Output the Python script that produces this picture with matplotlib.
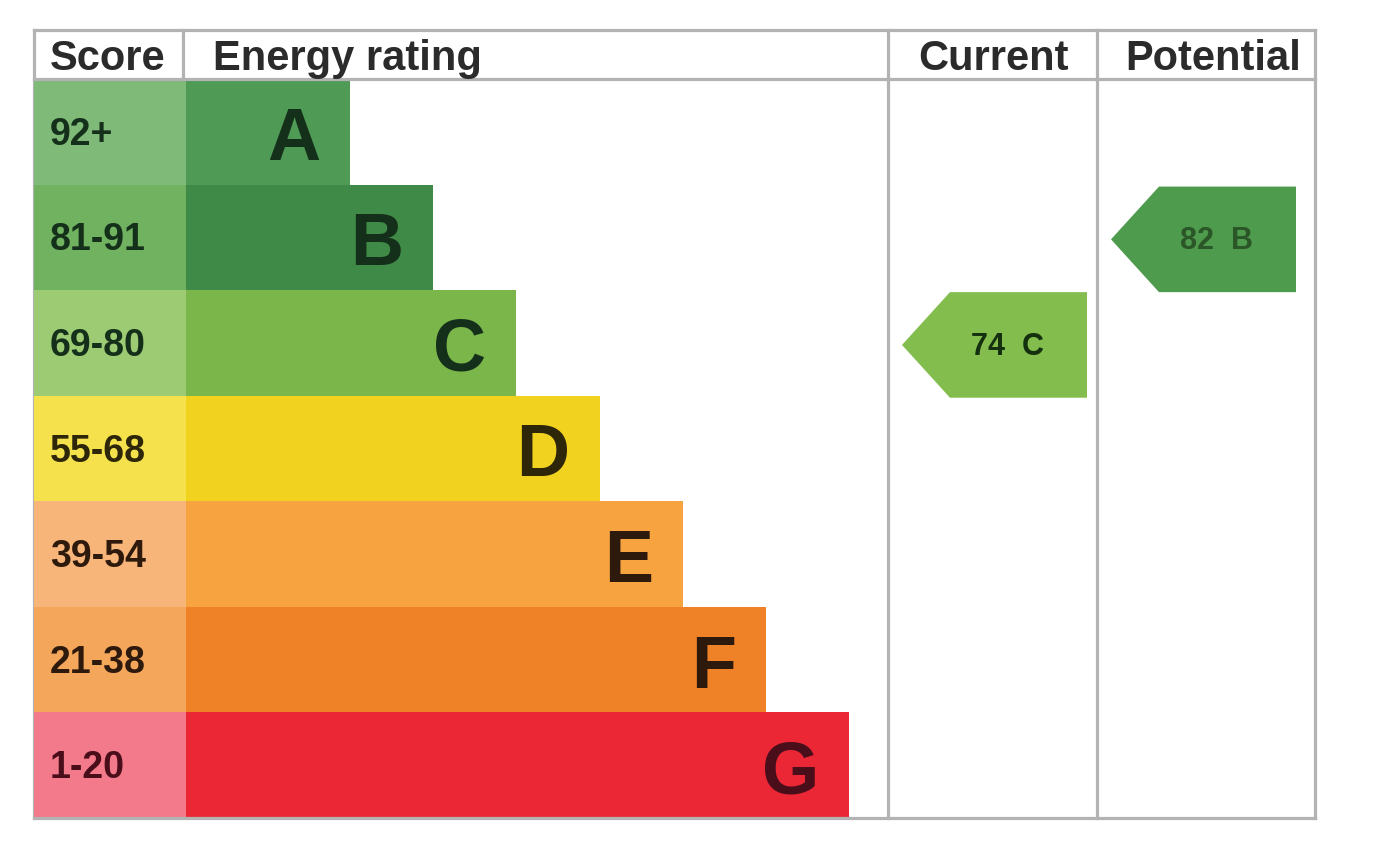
import matplotlib
matplotlib.use('Agg')
import matplotlib.pyplot as plt
from matplotlib.patches import Rectangle, Polygon

plt.rcParams['font.family'] = ['Liberation Sans', 'DejaVu Sans']

bands = ['A', 'B', 'C', 'D', 'E', 'F', 'G']
score_ranges = ['92+', '81-91', '69-80', '55-68', '39-54', '21-38', '1-20']
band_floor = [92, 81, 69, 55, 39, 21, 1]
bar_colors = ['#4f9a55', '#3f8a46', '#7bb64a', '#f1d21f', '#f7a340', '#ef8227', '#eb2736']
score_colors = ['#7fba78', '#70b25f', '#9dcb74', '#f4e14b', '#f8b57a', '#f4a75a', '#f27a8b']
text_colors = ['#15301a', '#15301a', '#15301a', '#2e2608', '#2e1a0c', '#2e1a0c', '#4a0e1a']
headers = ['Score', 'Energy rating', 'Current', 'Potential']
current = 74
potential = 82
arrow_colors = {'C': '#83bd4d', 'B': '#4f9b4e'}


def band_of(score):
    for i, lo in enumerate(band_floor):
        if score >= lo:
            return i
    return len(bands) - 1


fig = plt.figure(figsize=(14, 8.59), dpi=100)
ax = fig.add_axes([0, 0, 1, 1])
ax.set_xlim(0, 1400)
ax.set_ylim(859, 0)
ax.axis('off')

# layout (pixels)
left, x_bar, x_cur, x_pot, right = 34, 186, 888, 1097, 1315
top, head_bot, bottom = 30, 79, 818
row_h = (bottom - head_bot) / len(bands)
bar_first, bar_step = 350, 83.2
grey = '#b3b3b3'

for i, b in enumerate(bands):
    y0 = head_bot + i * row_h
    ax.add_patch(Rectangle((left, y0), x_bar - left, row_h, color=score_colors[i], lw=0))
    x_end = bar_first + i * bar_step
    ax.add_patch(Rectangle((x_bar, y0), x_end - x_bar, row_h, color=bar_colors[i], lw=0))
    yc = y0 + row_h / 2
    ax.text(50, yc + 13, score_ranges[i], fontsize=27, fontweight='bold',
            color=text_colors[i], ha='left', va='baseline')
    ax.text(x_end - 30, yc + 28, b, fontsize=53, fontweight='bold',
            color=text_colors[i], ha='right', va='baseline')

# grid lines
lw = 2.3
ax.plot([left, right], [top, top], color=grey, lw=lw)
ax.plot([left, right], [head_bot, head_bot], color=grey, lw=lw)
ax.plot([left, right], [bottom, bottom], color=grey, lw=lw)
ax.plot([left, left], [top, bottom], color=grey, lw=lw, zorder=0)
ax.plot([183, 183], [top, head_bot], color=grey, lw=lw)
for x in (x_cur, x_pot, right):
    ax.plot([x, x], [top, bottom], color=grey, lw=lw)

# headers
ax.text(50, 70, headers[0], fontsize=30, fontweight='bold', color='#2b2b2b', va='baseline')
ax.text(213, 70, headers[1], fontsize=30, fontweight='bold', color='#2b2b2b', va='baseline')
ax.text(918, 70, headers[2], fontsize=30, fontweight='bold', color='#2b2b2b', va='baseline')
ax.text(1125, 70, headers[3], fontsize=30, fontweight='bold', color='#2b2b2b', va='baseline')


def arrow(score, col_l, col_r, tc):
    i = band_of(score)
    y0 = head_bot + i * row_h + 2
    y1 = y0 + row_h
    tip = col_l + 14
    body = tip + 48
    r = col_r - 10
    pts = [(tip, (y0 + y1) / 2), (body, y0), (r, y0), (r, y1), (body, y1)]
    ax.add_patch(Polygon(pts, closed=True, color=arrow_colors[bands[i]], lw=0))
    ax.text((body + r) / 2 - 11, (y0 + y1) / 2 + 10, f'{score}  {bands[i]}',
            fontsize=22, fontweight='bold', color=tc, ha='center', va='baseline')


arrow(current, x_cur, x_pot, '#15300f')
arrow(potential, x_pot, right - 9, '#2b5628')

fig.savefig('out.png', dpi=100)
